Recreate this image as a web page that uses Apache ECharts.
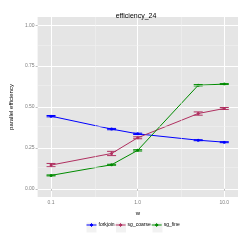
<!DOCTYPE html>
<html><head><meta charset="utf-8">
<script src="https://cdn.jsdelivr.net/npm/echarts@6/dist/echarts.min.js"></script>
<style>html,body{margin:0;padding:0;background:#fff}#c{width:245px;height:245px}</style>
</head><body><div id="c"></div>
<script>
const xValues = [0.1, 0.5, 1, 5, 10];
const forkjoin = [0.444, 0.365, 0.336, 0.297, 0.285];
const forkjoinErr = [0.004, 0.004, 0.004, 0.003, 0.003];
const sgCoarse = [0.145, 0.216, 0.312, 0.460, 0.491];
const sgCoarseErr = [0.010, 0.013, 0.006, 0.010, 0.006];
const sgFine = [0.082, 0.147, 0.235, 0.633, 0.640];
const sgFineErr = [0.003, 0.003, 0.004, 0.004, 0.003];
const seriesNames = ['forkjoin', 'sg_coarse', 'sg_fine'];
const xTicks = [0.1, 1, 10];
const xTickLabels = ['0.1', '1.0', '10.0'];
const yTicks = [0, 0.25, 0.5, 0.75, 1];
const xMinor = [0.316, 3.16];
const yMinor = [0.125, 0.375, 0.625, 0.875];

const colors = ['#0000FF', '#B03060', '#008B00'];
const FONT = 'Liberation Sans, Arial, sans-serif';
const allVals = [forkjoin, sgCoarse, sgFine];
const allErr = [forkjoinErr, sgCoarseErr, sgFineErr];
const keyIcon = 'path://M0,4.6 L10,4.6 L10,5.4 L0,5.4 Z M4.6,3 L5.4,3 L5.4,7 L4.6,7 Z M3.5,4 L6.5,4 L6.5,6 L3.5,6 Z';

function errRender(color) {
  return function (params, api) {
    const x = api.value(0), lo = api.value(1), hi = api.value(2);
    const pl = api.coord([x, lo]), ph = api.coord([x, hi]);
    const w = 4.5;
    const st = {stroke: color, lineWidth: 1};
    return {type: 'group', children: [
      {type: 'line', shape: {x1: pl[0], y1: pl[1], x2: ph[0], y2: ph[1]}, style: st},
      {type: 'line', shape: {x1: pl[0] - w, y1: pl[1], x2: pl[0] + w, y2: pl[1]}, style: st},
      {type: 'line', shape: {x1: ph[0] - w, y1: ph[1], x2: ph[0] + w, y2: ph[1]}, style: st}
    ]};
  };
}

const series = [];
series.push({
  type: 'line', data: [], z: 1, silent: true,
  markLine: {
    silent: true, symbol: 'none', animation: false,
    label: {show: false},
    lineStyle: {color: '#f2f2f2', width: 0.5, type: 'solid'},
    data: xMinor.map(v => ({xAxis: v})).concat(yMinor.map(v => ({yAxis: v})))
  }
});
seriesNames.forEach((name, i) => {
  series.push({
    name: name, type: 'line',
    data: xValues.map((x, j) => [x, allVals[i][j]]),
    symbol: 'circle', symbolSize: 3,
    lineStyle: {color: colors[i], width: 1},
    itemStyle: {color: colors[i]},
    z: 3, animation: false
  });
  series.push({
    name: name, type: 'custom',
    renderItem: errRender(colors[i]),
    data: xValues.map((x, j) => [x, allVals[i][j] - allErr[i][j], allVals[i][j] + allErr[i][j]]),
    encode: {x: 0, y: [1, 2]},
    z: 4, animation: false
  });
});

const chart = echarts.init(document.getElementById('c'), null, {renderer: 'canvas'});
chart.setOption({
  animation: false,
  backgroundColor: '#fff',
  title: {
    text: 'efficiency_24', left: 131, top: 8, textAlign: 'center',
    textStyle: {fontFamily: FONT, fontSize: 7, fontWeight: 'normal', color: '#000'}
  },
  graphic: [
    {type: 'rect', shape: {x: 86.5, y: 222.5, width: 10, height: 10}, style: {fill: '#F2F2F2'}, z: 0, silent: true},
    {type: 'rect', shape: {x: 116, y: 222.5, width: 10, height: 10}, style: {fill: '#F2F2F2'}, z: 0, silent: true},
    {type: 'rect', shape: {x: 152.5, y: 222.5, width: 10, height: 10}, style: {fill: '#F2F2F2'}, z: 0, silent: true}
  ],
  grid: {left: 25, right: 7, top: 17, bottom: 48, show: true, backgroundColor: '#E5E5E5', borderWidth: 0},
  legend: {
    data: seriesNames.map(n => ({name: n, icon: keyIcon})),
    left: 86.5, top: 222.5, itemWidth: 10, itemHeight: 10, itemGap: 1, padding: 0, z: 5,
    textStyle: {fontFamily: FONT, fontSize: 5, color: '#000', padding: [0, 0, 0, -3]}
  },
  xAxis: {
    type: 'log', logBase: 10, min: 0.07, max: 14.4,
    name: 'w', nameLocation: 'middle', nameGap: 11,
    nameTextStyle: {fontFamily: FONT, fontSize: 6, color: '#000'},
    axisLine: {show: false},
    axisTick: {show: true, length: 2, customValues: xTicks, lineStyle: {color: '#7F7F7F', width: 0.5}},
    axisLabel: {customValues: xTicks, margin: 3, fontFamily: FONT, fontSize: 5, color: '#7F7F7F',
      formatter: v => xTickLabels[xTicks.findIndex(t => Math.abs(t - v) < 1e-9)] || ''},
    splitLine: {show: true, lineStyle: {color: '#FFFFFF', width: 1}}
  },
  yAxis: {
    type: 'value', min: -0.05, max: 1.05,
    name: 'parallel efficiency', nameLocation: 'middle', nameGap: 15, nameRotate: 90,
    nameTextStyle: {fontFamily: FONT, fontSize: 6, color: '#000'},
    axisLine: {show: false},
    axisTick: {show: true, length: 2, customValues: yTicks, lineStyle: {color: '#7F7F7F', width: 0.5}},
    axisLabel: {customValues: yTicks, margin: 3, fontFamily: FONT, fontSize: 5, color: '#7F7F7F',
      formatter: v => v.toFixed(2)},
    splitLine: {show: true, lineStyle: {color: '#FFFFFF', width: 1}}
  },
  series: series
});
</script></body></html>
